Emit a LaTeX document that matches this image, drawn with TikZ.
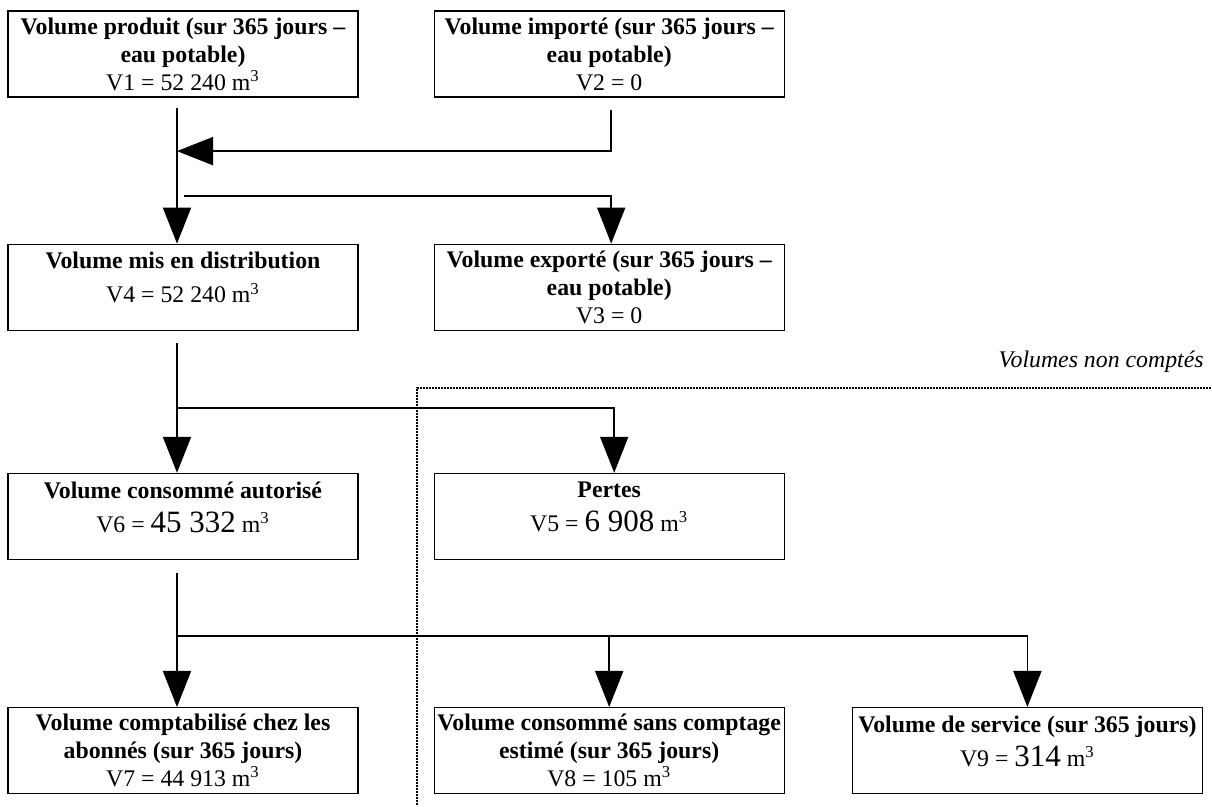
\documentclass[tikz,border=0pt]{standalone}
\usepackage{fontspec}
\setmainfont{Liberation Serif}
\usetikzlibrary{arrows.meta,positioning,calc}
\tikzset{
  basic/.style  = {draw, rectangle, line width=0.6pt, font=\fontsize{11.9}{14}\selectfont},
  volume/.style = {basic, align=flush center, text width=175pt, inner xsep=0pt, inner ysep=2pt,
                   minimum height=43pt},
  flow/.style   = {line width=0.9pt, -{Triangle[length=18pt,width=14pt]}},
  uncounted/.style = {line width=1.1pt, dash pattern=on 0.8pt off 0.7pt},
  note/.style   = {inner sep=0pt, font=\itshape\fontsize{11.9}{14}\selectfont}
}
\newcommand{\bignum}[1]{{\fontsize{15.5}{14}\selectfont #1}}

\begin{document}
\begin{tikzpicture}[x=0.5pt,y=-0.5pt]
\useasboundingbox (0,0) rectangle (1212,807);
% production / import / export
\node[volume] (v1) at (183,54) {\textbf{Volume produit (sur 365 jours --}\\
	\textbf{eau potable)}\\ V1 = 52~240 m\textsuperscript{3}};
\node[volume, right=37.5pt of v1] (v2) {\textbf{Volume import\'e (sur 365 jours --}\\
	\textbf{eau potable)}\\ V2 = 0};
\node[volume, below=73pt of v1] (v4) {\textbf{Volume mis en distribution}\\[3pt]
	V4 = 52~240 m\textsuperscript{3}\\[-4.5pt] \mbox{}};
\node[volume, below=73pt of v2] (v3) {\textbf{Volume export\'e (sur 365 jours --}\\
	\textbf{eau potable)}\\ V3 = 0};
% consumption / losses
\node[volume, below=71pt of v4] (v6) {\textbf{Volume consomm\'e autoris\'e}\\[3pt]
	V6 = \bignum{45~332} m\textsuperscript{3}\\[-4.5pt] \mbox{}};
\node[volume, below=71pt of v3] (v5) {\textbf{Pertes}\\[3pt]
	V5 = \bignum{6~908} m\textsuperscript{3}\\[-4.5pt] \mbox{}};
% detail of consumption
\node[volume, below=73.5pt of v6] (v7) {\textbf{Volume comptabilis\'e chez les}\\
	\textbf{abonn\'es (sur 365 jours)}\\ V7 = 44~913 m\textsuperscript{3}};
\node[volume, below=73.5pt of v5] (v8) {\textbf{Volume consomm\'e sans comptage}\\
	\textbf{estim\'e (sur 365 jours)}\\ V8 = 105 m\textsuperscript{3}};
\node[volume, right=33.5pt of v8] (v9) {\textbf{Volume de service (sur 365 jours)}\\[3pt]
	V9 = \bignum{314} m\textsuperscript{3}\\[-4.5pt] \mbox{}};

% junctions (the main line runs a little left of the box centres)
\coordinate (t1) at ([xshift=-3pt,yshift=-5pt]v1.south);
\coordinate (b1) at ([xshift=-3pt]v4.north);
\coordinate (t2) at ([xshift=-3pt,yshift=-6pt]v4.south);
\coordinate (b2) at ([xshift=-3pt]v6.north);
\coordinate (t3) at ([xshift=-3pt,yshift=-6.5pt]v6.south);
\coordinate (b3) at ([xshift=-3pt]v7.north);
\coordinate (jin) at ($(t1)!0.32!(b1)$);
\coordinate (jout) at ($(t1)!0.65!(b1)$);
\coordinate (jloss) at ($(t2)!0.5!(b2)$);
\coordinate (jserv) at ($(t3)!0.47!(b3)$);

\draw[flow] (t1) -- (b1);
\draw[flow] ([xshift=1pt,yshift=-6pt]v2.south) |- (jin);
\draw[flow] ([xshift=3.5pt]jout) -| ([xshift=1pt]v3.north);

\draw[flow] (t2) -- (b2);
\draw[flow] (jloss) -| ([xshift=2.5pt]v5.north);

\draw[flow] (t3) -- (b3);
\draw[flow] (jserv) -| (v9.north);
\draw[flow] (jserv -| v8.north) -- (v8.north);

% non counted volumes
\coordinate (dbot) at (417,805);
\coordinate (dright) at (1212,388);
\draw[uncounted] (dbot) |- (dright);
\node[note, anchor=base east] (nc) at (1204,368) {Volumes non compt\'es};
\end{tikzpicture}
\end{document}
